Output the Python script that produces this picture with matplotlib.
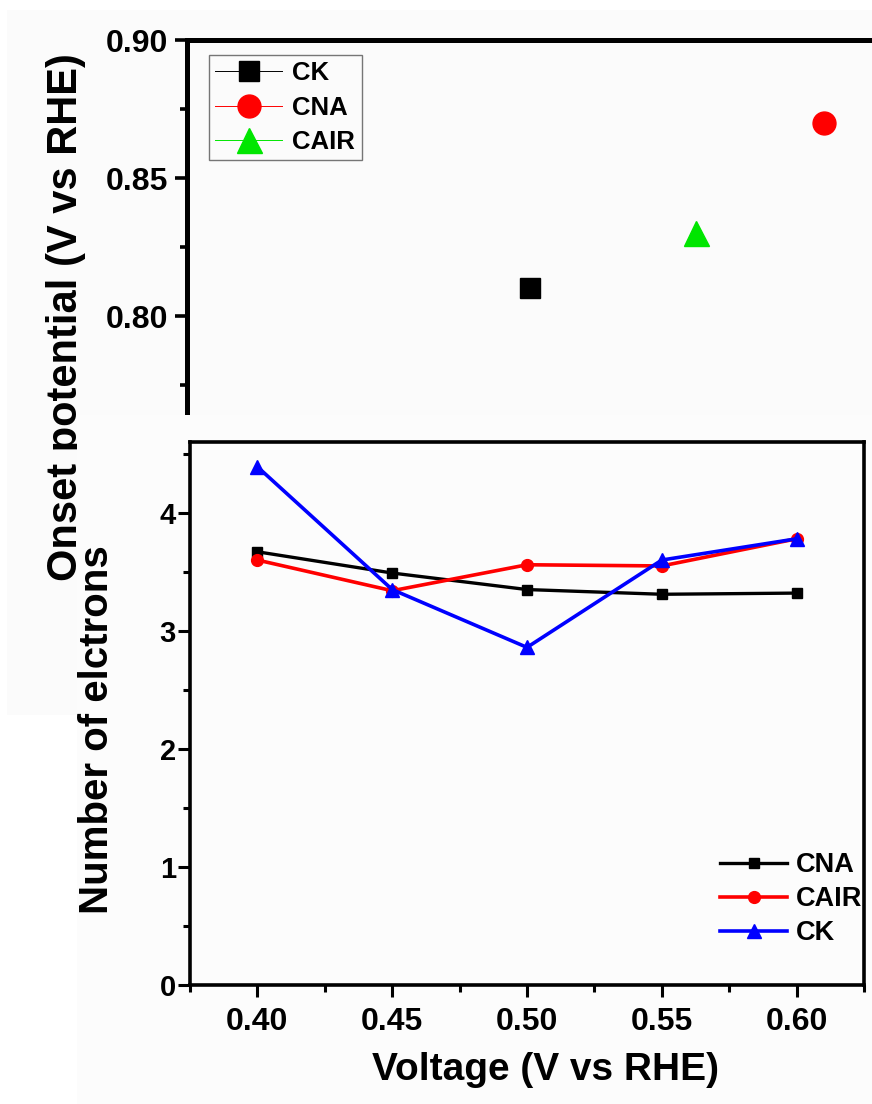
import matplotlib
matplotlib.use("Agg")
import matplotlib.pyplot as plt
from matplotlib import font_manager
from matplotlib.patches import Rectangle
from matplotlib.ticker import MultipleLocator, FormatStrFormatter

plt.rcParams['font.family'] = ['Liberation Sans', 'DejaVu Sans']
plt.rcParams['font.weight'] = 'bold'

installed = {f.name for f in font_manager.fontManager.ttflist}
has_narrow = 'Liberation Sans Narrow' in installed

# top panel: onset potential per catalyst
onset_labels = ["CK", "CNA", "CAIR"]
onset_pos = [2.0, 3.72, 2.97]
onset_values = [0.81, 0.87, 0.83]
onset_colors = ["#000000", "#ff0000", "#00e600"]
onset_markers = ["s", "o", "^"]
onset_sizes = [14, 16.5, 18]

# bottom panel: number of electrons vs voltage
voltage = [0.40, 0.45, 0.50, 0.55, 0.60]
n_cna = [3.67, 3.49, 3.35, 3.31, 3.32]
n_cair = [3.60, 3.34, 3.56, 3.55, 3.78]
n_ck = [4.39, 3.35, 2.86, 3.60, 3.78]

W, H = 872, 1104
fig = plt.figure(figsize=(W / 100, H / 100), dpi=100)


def box(x0, y0, x1, y1):
    # pixel box (top-left origin) -> figure fraction rect
    return [x0 / W, 1 - y1 / H, (x1 - x0) / W, (y1 - y0) / H]


# faint background of the first (top) picture
fig.add_artist(Rectangle((7 / W, 1 - 715 / H), (W - 7) / W, 705 / H,
                         transform=fig.transFigure, fc="#fbfbfb", ec="none", zorder=0.5))

ax1 = fig.add_axes(box(187, 40, 872, 454))
ax1.set_zorder(1)
ax1.patch.set_visible(False)
for lab, x, y, c, m, s in zip(onset_labels, onset_pos, onset_values, onset_colors, onset_markers, onset_sizes):
    ax1.plot([x], [y], marker=m, ms=s, color=c, lw=0.7, label=lab)
ax1.set_xlim(0, 4)
ax1.set_ylim(0.75, 0.90)
ax1.yaxis.set_major_locator(MultipleLocator(0.05))
ax1.yaxis.set_minor_locator(MultipleLocator(0.025))
ax1.yaxis.set_major_formatter(FormatStrFormatter("%.2f"))
ax1.set_xticks([])
ax1.tick_params(axis="y", which="major", direction="out", length=8.6, width=2.6, labelsize=23, pad=5)
ax1.tick_params(axis="y", which="minor", direction="out", length=5, width=2.6)
for sp in ["right", "bottom"]:
    ax1.spines[sp].set_visible(False)
for sp in ["left", "top"]:
    ax1.spines[sp].set_linewidth(3.6)
leg1 = ax1.legend(loc="upper left", bbox_to_anchor=(0.032, 0.964), borderaxespad=0,
                  fontsize=18.5, frameon=True, fancybox=False, edgecolor="#555555",
                  handlelength=2.6, handletextpad=0.4, labelspacing=0.4, borderpad=0.25,
                  markerscale=1.0)
leg1.get_frame().set_linewidth(1.0)
leg1.get_frame().set_facecolor("#fcfcfc")

if has_narrow:
    fig.text(66 / W, 1 - 317 / H, "Onset potential (V vs RHE)", rotation=90,
             ha="center", va="center", fontsize=36, fontweight="bold",
             family=["Liberation Sans Narrow", "Liberation Sans"], zorder=1.5)
else:
    fig.text(66 / W, 1 - 317 / H, "Onset potential (V vs RHE)", rotation=90,
             ha="center", va="center", fontsize=30, fontweight="bold", zorder=1.5)

# second picture pasted over the lower part of the first one
fig.add_artist(Rectangle((77 / W, 0), (W - 77) / W, 1 - 415 / H,
                         transform=fig.transFigure, fc="#fcfcfc", ec="none", zorder=2))

ax2 = fig.add_axes(box(190, 442, 864, 985))
ax2.set_zorder(3)
ax2.patch.set_visible(False)
ax2.plot(voltage, n_cna, color="black", marker="s", ms=7, lw=2.4, label="CNA")
ax2.plot(voltage, n_cair, color="#ff0000", marker="o", ms=8.5, lw=2.6, label="CAIR")
ax2.plot(voltage, n_ck, color="#0000ff", marker="^", ms=9.5, lw=2.6, label="CK")
ax2.set_xlim(0.375, 0.625)
ax2.set_ylim(0, 4.6)
ax2.xaxis.set_major_locator(MultipleLocator(0.05))
ax2.xaxis.set_minor_locator(MultipleLocator(0.025))
ax2.xaxis.set_major_formatter(FormatStrFormatter("%.2f"))
ax2.yaxis.set_major_locator(MultipleLocator(1))
ax2.yaxis.set_minor_locator(MultipleLocator(0.5))
ax2.tick_params(axis="x", which="major", direction="out", length=8.6, width=2.2, labelsize=23, pad=7)
ax2.tick_params(axis="y", which="major", direction="out", length=8.6, width=2.2, labelsize=21, pad=1.5)
ax2.tick_params(which="minor", direction="out", length=5, width=2.2)
for sp in ax2.spines.values():
    sp.set_linewidth(2.6)
ax2.legend(loc="center left", bbox_to_anchor=(0.786, 0.158), borderaxespad=0, borderpad=0,
           frameon=False, fontsize=19.5, handlelength=2.5, handletextpad=0.3, labelspacing=0.3)

fig.text(97 / W, 1 - 730 / H, "Number of elctrons", rotation=90, ha="center", va="center",
         fontsize=29, fontweight="bold", zorder=4)
fig.text(545 / W, 1 - 1070 / H, "Voltage (V vs RHE)", ha="center", va="center",
         fontsize=28, fontweight="bold", zorder=4)

fig.savefig("out.png", dpi=100, facecolor="white")
